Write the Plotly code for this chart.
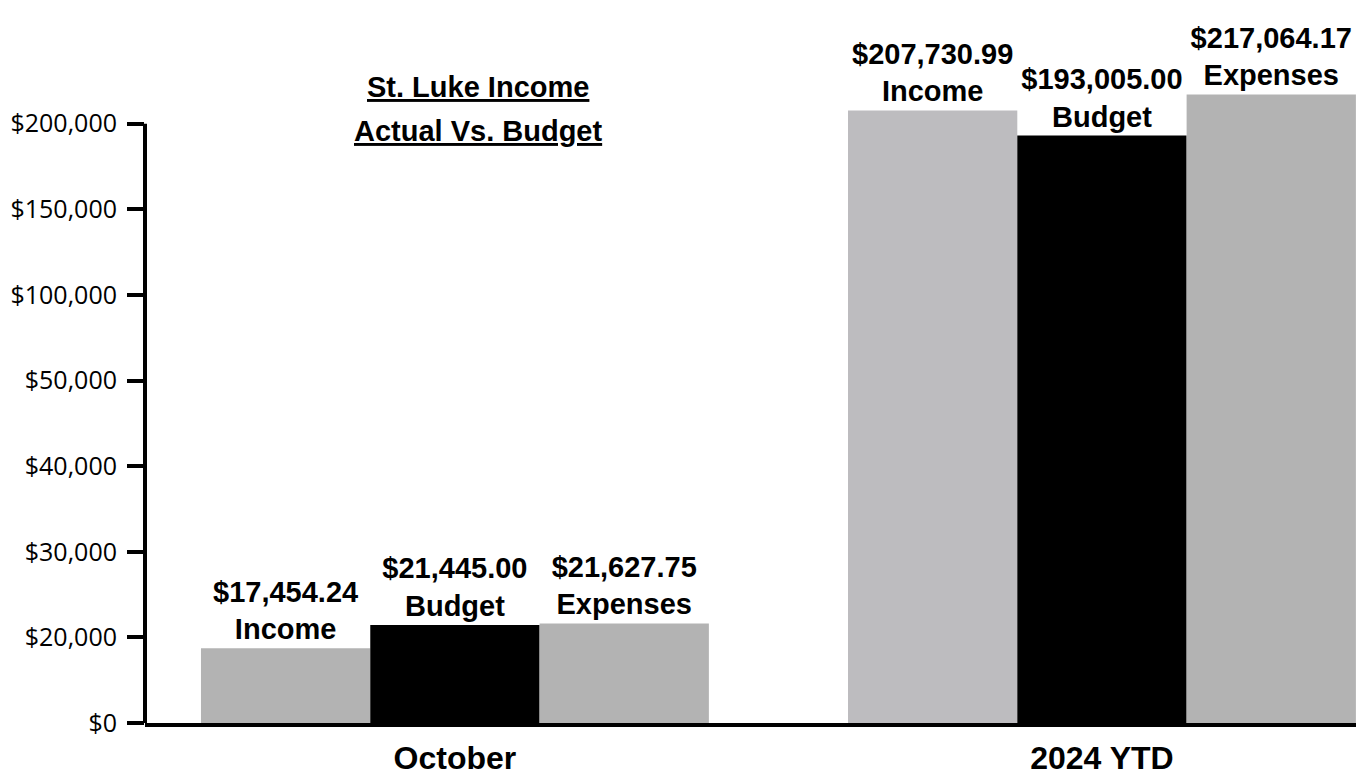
import numpy as np
import plotly.graph_objects as go

# ---- data ----
categories = ["October", "2024 YTD"]
income = [17454.24, 207730.99]
budget = [21445.00, 193005.00]
expenses = [21627.75, 217064.17]
tick_values = [0, 20000, 30000, 40000, 50000, 100000, 150000, 200000]
tick_labels = ["$0", "$20,000", "$30,000", "$40,000", "$50,000", "$100,000", "$150,000", "$200,000"]

# broken (piecewise) value axis: each tick label occupies one equal step
steps = np.arange(len(tick_values), dtype=float)


def to_axis(vals):
    vals = np.asarray(vals, dtype=float)
    out = np.interp(vals, tick_values, steps)
    top = tick_values[-1]
    span = tick_values[-1] - tick_values[-2]
    over = vals > top
    out[over] = steps[-1] + (vals[over] - top) / span
    return out


xpos = np.arange(len(categories))

BOLD = "Liberation Sans, Arial, sans-serif"
LABEL_FONT = dict(family=BOLD, size=29, color="black")


def labels(vals, name):
    return [f"<b>${v:,.2f}<br>{name}</b>" for v in vals]


fig = go.Figure()
series = [
    ("Income", income, ["#b3b3b3", "#bdbcbf"]),
    ("Budget", budget, ["#000000", "#000000"]),
    ("Expenses", expenses, ["#b3b3b3", "#b3b3b3"]),
]
for name, vals, colors in series:
    fig.add_trace(go.Bar(
        x=xpos,
        y=to_axis(vals),
        name=name,
        marker=dict(color=colors, line=dict(width=0)),
        text=labels(vals, name),
        textposition="outside",
        textfont=LABEL_FONT,
        constraintext="none",
        cliponaxis=False,
        hoverinfo="skip",
    ))

fig.update_layout(
    width=1356,
    height=768,
    margin=dict(l=137, r=0, t=32, b=50),
    paper_bgcolor="white",
    plot_bgcolor="white",
    barmode="group",
    bargap=0.215,
    bargroupgap=0,
    showlegend=False,
    xaxis=dict(
        range=[-0.479, 1.405],
        tickvals=xpos,
        ticktext=[f"<b>{c}</b>" for c in categories],
        tickfont=dict(family=BOLD, size=32, color="black"),
        showgrid=False,
        zeroline=False,
        showline=True,
        linewidth=4,
        linecolor="black",
        ticks="",
        ticklabelstandoff=4,
    ),
    yaxis=dict(
        range=[0, 686 / 86],
        tickvals=steps,
        ticktext=tick_labels,
        tickfont=dict(family="Open Sans, sans-serif", size=25, color="black"),
        showgrid=False,
        zeroline=False,
        showline=False,
        ticks="outside",
        ticklen=17,
        tickwidth=4,
        tickcolor="black",
        ticklabelstandoff=5,
    ),
    shapes=[
        dict(type="line", xref="paper", yref="y", x0=0, x1=0, y0=0, y1=steps[-1],
             line=dict(color="black", width=4)),
    ],
    annotations=[
        dict(text="<b><u>St. Luke Income</u></b>", xref="paper", yref="paper",
             x=0.273, y=0.9315, xanchor="center", yanchor="middle", showarrow=False,
             font=dict(family=BOLD, size=29, color="black")),
        dict(text="<b><u>Actual Vs. Budget</u></b>", xref="paper", yref="paper",
             x=0.273, y=0.867, xanchor="center", yanchor="middle", showarrow=False,
             font=dict(family=BOLD, size=29, color="black")),
    ],
)

fig.write_html("out.html")
